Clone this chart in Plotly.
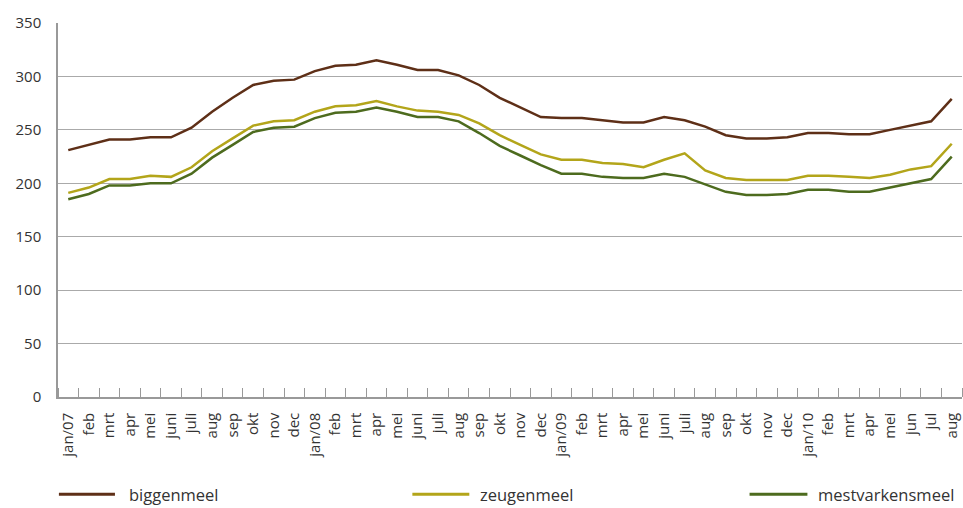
import plotly.graph_objects as go

months = ["jan/07", "feb", "mrt", "apr", "mei", "juni", "juli", "aug", "sep", "okt", "nov", "dec",
          "jan/08", "feb", "mrt", "apr", "mei", "juni", "juli", "aug", "sep", "okt", "nov", "dec",
          "jan/09", "feb", "mrt", "apr", "mei", "juni", "juli", "aug", "sep", "okt", "nov", "dec",
          "jan/10", "feb", "mrt", "apr", "mei", "jun", "jul", "aug"]

biggenmeel = [231, 236, 241, 241, 243, 243, 252, 267, 280, 292, 296, 297,
              305, 310, 311, 315, 311, 306, 306, 301, 292, 280, 271, 262,
              261, 261, 259, 257, 257, 262, 259, 253, 245, 242, 242, 243,
              247, 247, 246, 246, 250, 254, 258, 279]

zeugenmeel = [191, 196, 204, 204, 207, 206, 215, 230, 242, 254, 258, 259,
              267, 272, 273, 277, 272, 268, 267, 264, 256, 245, 236, 227,
              222, 222, 219, 218, 215, 222, 228, 212, 205, 203, 203, 203,
              207, 207, 206, 205, 208, 213, 216, 237]

mestvarkensmeel = [185, 190, 198, 198, 200, 200, 209, 224, 236, 248, 252, 253,
                   261, 266, 267, 271, 267, 262, 262, 258, 247, 235, 226, 217,
                   209, 209, 206, 205, 205, 209, 206, 199, 192, 189, 189, 190,
                   194, 194, 192, 192, 196, 200, 204, 225]

series = [("biggenmeel", biggenmeel, "#5e2f17"),
          ("zeugenmeel", zeugenmeel, "#b3a51a"),
          ("mestvarkensmeel", mestvarkensmeel, "#4d6b1e")]

x = list(range(len(months)))
FONT = "Open Sans"

fig = go.Figure()
for name, vals, col in series:
    fig.add_trace(go.Scatter(x=x, y=vals, mode="lines", name=name,
                             line=dict(color=col, width=2.5), showlegend=False))

# custom legend
leg_y = -0.26
leg_pos = [(0.001, 0.063, 0.076), (0.392, 0.455, 0.465), (0.765, 0.829, 0.839)]
for (name, vals, col), (x0, x1, xt) in zip(series, leg_pos):
    fig.add_shape(type="line", xref="paper", yref="paper", x0=x0, x1=x1, y0=leg_y, y1=leg_y,
                  line=dict(color=col, width=3))
    fig.add_annotation(xref="paper", yref="paper", x=xt, y=leg_y, text=name, showarrow=False,
                       xanchor="left", yanchor="middle", font=dict(family=FONT, size=16.5, color="#333333"))

fig.update_layout(
    width=963, height=508,
    margin=dict(l=58, r=1, t=23, b=111),
    paper_bgcolor="white", plot_bgcolor="white",
    font=dict(family=FONT, size=15, color="#333333"),
    xaxis=dict(range=[-0.5, len(months) - 0.5], tickmode="array", tickvals=x, ticktext=months,
               tickangle=-90, ticks="", showgrid=False, showline=True, linecolor="#999999",
               linewidth=1.5, zeroline=False, tickfont=dict(size=15), ticklabelstandoff=8,
               minor=dict(tickmode="array", tickvals=[i - 0.5 for i in range(len(months) + 1)],
                          ticks="inside", ticklen=9, tickcolor="#999999", tickwidth=1, showgrid=False)),
    yaxis=dict(range=[0, 350], dtick=50, showgrid=True, gridcolor="#aaaaaa", gridwidth=1,
               showline=True, linecolor="#999999", linewidth=1.5, zeroline=False,
               ticks="", tickfont=dict(size=15), ticklabelstandoff=12),
)

fig.write_html("out.html", config={"displayModeBar": False},
               post_script="document.body.style.margin='0';document.body.style.padding='0';")
